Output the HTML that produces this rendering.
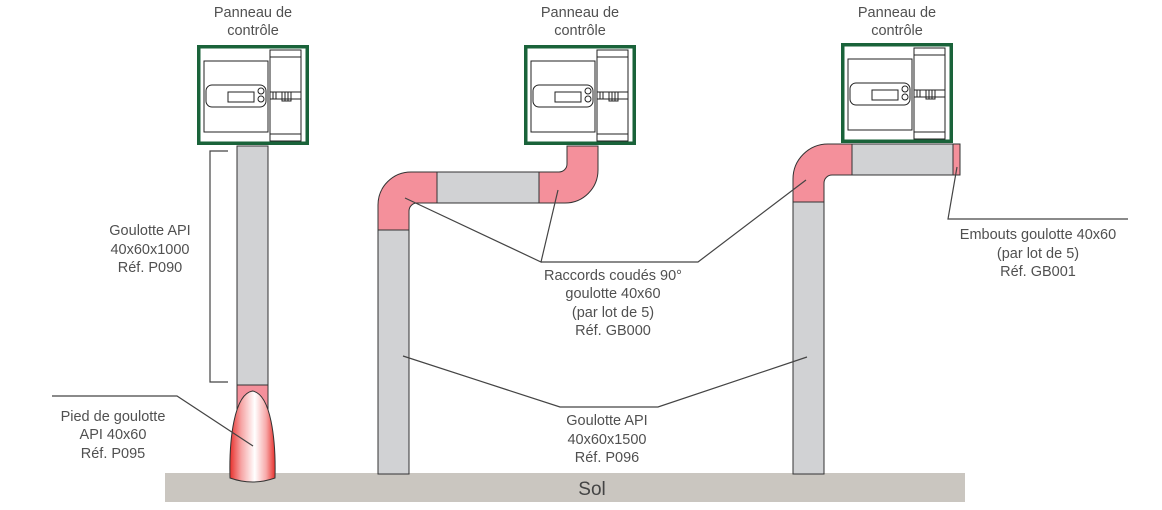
<!DOCTYPE html>
<html><head><meta charset="utf-8"><style>
html,body{margin:0;padding:0;background:#fff;}
svg{display:block;}
text{font-family:"Liberation Sans",sans-serif;fill:#505050;}
</style></head><body>
<svg width="1162" height="510" viewBox="0 0 1162 510" xmlns="http://www.w3.org/2000/svg">
<defs>
<linearGradient id="pied" x1="0" y1="0" x2="1" y2="0">
<stop offset="0" stop-color="#e8302c"/>
<stop offset="0.25" stop-color="#f6a4a4"/>
<stop offset="0.55" stop-color="#ffffff"/>
<stop offset="0.8" stop-color="#f7aaaa"/>
<stop offset="1" stop-color="#e8302c"/>
</linearGradient>
</defs>

<!-- Ground -->
<rect x="165" y="473" width="800" height="29" fill="#cac6c0"/>
<text x="592" y="495" text-anchor="middle" font-size="19" style="fill:#444">Sol</text>

<g stroke="#333" stroke-width="1">
<!-- Left pipe -->
<rect x="237" y="146" width="31" height="239" fill="#d1d2d4"/>
<rect x="237" y="385" width="31" height="60" fill="#f4909b"/>
<!-- Middle assembly -->
<rect x="378" y="230" width="31" height="244" fill="#d1d2d4"/>
<rect x="437" y="172" width="102" height="31" fill="#d1d2d4"/>
<path d="M378,230 L378,205 A33,33 0 0 1 411,172 L437,172 L437,203 L417,203 A8,8 0 0 0 409,211 L409,230 Z" fill="#f4909b"/>
<path d="M539,172 L559,172 A8,8 0 0 0 567,164 L567,146 L598,146 L598,170 A33,33 0 0 1 565,203 L539,203 Z" fill="#f4909b"/>
<!-- Right assembly -->
<rect x="793" y="202" width="31" height="272" fill="#d1d2d4"/>
<rect x="852" y="144" width="101" height="31" fill="#d1d2d4"/>
<path d="M793,202 L793,179 A35,35 0 0 1 828,144 L852,144 L852,175 L832,175 A8,8 0 0 0 824,183 L824,202 Z" fill="#f4909b"/>
<rect x="953" y="144" width="7" height="31" fill="#f4909b"/>
</g>
<!-- Pied -->
<path d="M230,478 C229,440 234,394 252.5,391 C271,394 276,440 275,478 Q252.5,486 230,478 Z" fill="url(#pied)" stroke="#333" stroke-width="1"/>

<!-- Panels -->
<g id="p1" transform="translate(197,0)" stroke="#222" stroke-width="1" fill="none">
<rect x="1.75" y="46.75" width="108.5" height="96.5" stroke="#1a633a" stroke-width="3.5" fill="#fff"/>
<rect x="7" y="61" width="64" height="71"/>
<rect x="9" y="85" width="60" height="22" rx="6"/>
<rect x="31" y="92" width="26" height="10"/>
<circle cx="64" cy="91" r="3"/>
<circle cx="64" cy="99" r="3"/>
<rect x="73" y="50" width="31" height="91"/>
<line x1="73" y1="57" x2="104" y2="57"/>
<line x1="73" y1="134" x2="104" y2="134"/>
<rect x="73" y="92" width="31" height="7"/>
<line x1="76" y1="92" x2="76" y2="99"/>
<line x1="79" y1="92" x2="79" y2="99"/>
<rect x="85" y="92" width="9" height="9"/>
<line x1="88" y1="92" x2="88" y2="101"/>
<line x1="91" y1="92" x2="91" y2="101"/>
</g>
<use href="#p1" x="327" y="0"/>
<use href="#p1" x="644" y="-2"/>

<!-- Panel labels -->
<g font-size="14.5" text-anchor="middle">
<text x="253" y="17">Panneau de</text>
<text x="253" y="35">contrôle</text>
<text x="580" y="17">Panneau de</text>
<text x="580" y="35">contrôle</text>
<text x="897" y="17">Panneau de</text>
<text x="897" y="35">contrôle</text>
</g>

<!-- Leader lines -->
<g stroke="#444" stroke-width="1.2" fill="none">
<path d="M228,151 L210,151 L210,382 L228,382"/>
<path d="M52,396 L177,396 L253,446"/>
<path d="M405,198 L541,262 L558,190"/>
<path d="M541,262 L698,262 L806,180"/>
<path d="M403,356 L560,407 L658,407 L807,357"/>
<path d="M957,167 L948,219 L1128,219"/>
</g>

<!-- Labels -->
<g font-size="14.5" text-anchor="middle">
<text x="150" y="235">Goulotte API</text>
<text x="150" y="254">40x60x1000</text>
<text x="150" y="272">Réf. P090</text>

<text x="113" y="421">Pied de goulotte</text>
<text x="113" y="439">API 40x60</text>
<text x="113" y="458">Réf. P095</text>

<text x="613" y="280">Raccords coudés 90°</text>
<text x="613" y="298">goulotte 40x60</text>
<text x="613" y="317">(par lot de 5)</text>
<text x="613" y="335">Réf. GB000</text>

<text x="607" y="425">Goulotte API</text>
<text x="607" y="444">40x60x1500</text>
<text x="607" y="462">Réf. P096</text>

<text x="1038" y="239">Embouts goulotte 40x60</text>
<text x="1038" y="258">(par lot de 5)</text>
<text x="1038" y="276">Réf. GB001</text>
</g>
</svg>
</body></html>
